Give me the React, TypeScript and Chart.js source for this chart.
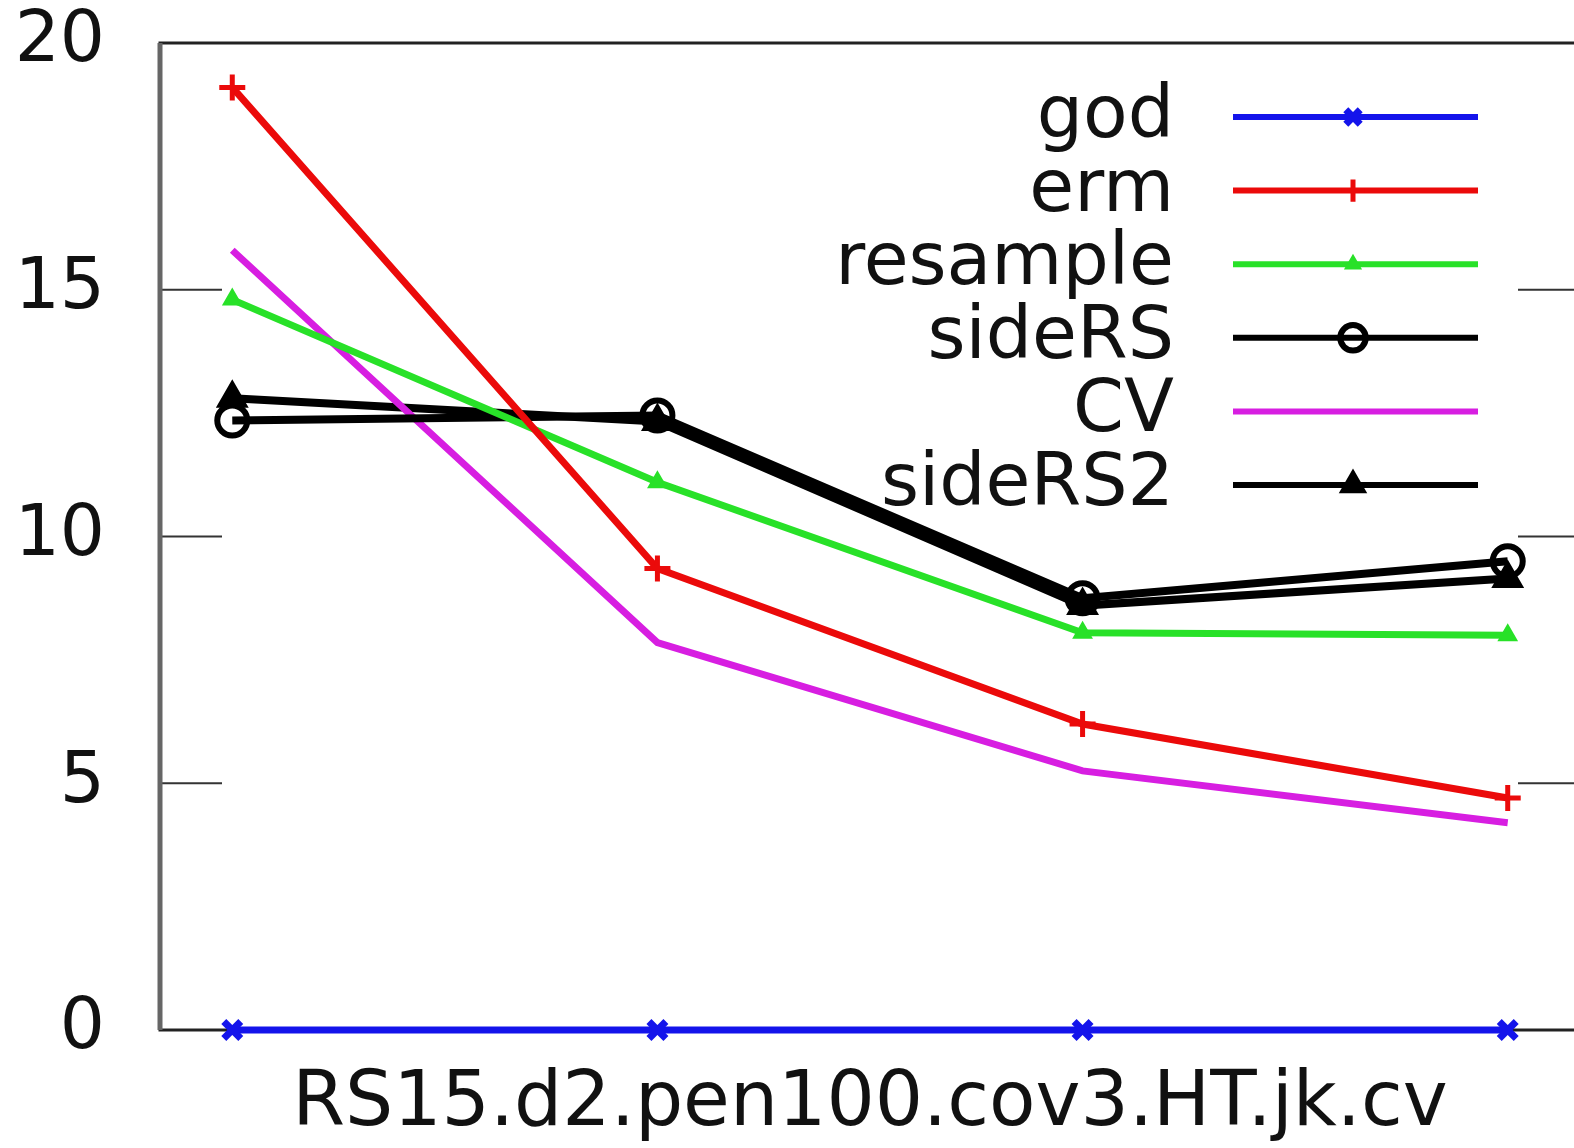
import React, { useEffect, useRef } from "react";
import { Chart, registerables } from "chart.js";
import { drawPoint } from "chart.js/helpers";

Chart.register(...registerables);

const xPositions = [1, 2, 3, 4];
const seriesNames = ["god", "erm", "resample", "sideRS", "CV", "sideRS2"];
const god = [0, 0, 0, 0];
const erm = [19.1, 9.35, 6.2, 4.7];
const resample = [14.8, 11.1, 8.05, 8.0];
const sideRS = [12.35, 12.45, 8.75, 9.5];
const cv = [15.8, 7.85, 5.25, 4.2];
const sideRS2 = [12.8, 12.33, 8.6, 9.15];
const yTickValues = [0, 5, 10, 15, 20];
const xAxisTitle = "RS15.d2.pen100.cov3.HT.jk.cv";

const FONT = "'DejaVu Sans', 'Liberation Sans', Arial, sans-serif";

const styles = [
  { color: "rgb(20,20,235)", pointStyle: "crossRot", radius: 12, pbw: 7, bg: "rgb(20,20,235)", lw: 7 },
  { color: "rgb(235,10,10)", pointStyle: "cross", radius: 13, pbw: 5, bg: "rgb(235,10,10)", lw: 7 },
  { color: "rgb(40,225,40)", pointStyle: "triangle", radius: 10, pbw: 2, bg: "rgb(40,225,40)", lw: 7 },
  { color: "rgb(0,0,0)", pointStyle: "circle", radius: 15, pbw: 6, bg: "rgba(0,0,0,0)", lw: 8 },
  { color: "rgb(215,30,225)", pointStyle: "circle", radius: 0, pbw: 0, bg: "rgb(215,30,225)", lw: 7 },
  { color: "rgb(0,0,0)", pointStyle: "triangle", radius: 17, pbw: 2, bg: "rgb(0,0,0)", lw: 8 },
];

const seriesValues = [god, erm, resample, sideRS, cv, sideRS2];

const framePlugin = {
  id: "frame",
  beforeDatasetsDraw(chart: any) {
    const { ctx, chartArea } = chart;
    const { left, right, top, bottom } = chartArea;
    const y = chart.scales.y;
    ctx.save();
    ctx.strokeStyle = "#333";
    ctx.lineWidth = 2;
    yTickValues.forEach((v) => {
      const py = y.getPixelForValue(v);
      ctx.beginPath();
      ctx.moveTo(left, py);
      ctx.lineTo(left + 62, py);
      ctx.moveTo(right - 62, py);
      ctx.lineTo(right, py);
      ctx.stroke();
    });
    ctx.strokeStyle = "#222";
    ctx.lineWidth = 3;
    ctx.strokeRect(left, top, right - left, bottom - top);
    ctx.strokeStyle = "#666";
    ctx.lineWidth = 5;
    ctx.beginPath();
    ctx.moveTo(left, top);
    ctx.lineTo(left, bottom);
    ctx.stroke();
    ctx.restore();
  },
};

const legendPlugin = {
  id: "customLegend",
  afterDraw(chart: any) {
    const { ctx } = chart;
    ctx.save();
    chart.data.datasets.forEach((ds: any, i: number) => {
      const yy = 117 + i * 73.6;
      ctx.font = `73px ${FONT}`;
      ctx.fillStyle = "#111";
      ctx.textAlign = "right";
      ctx.textBaseline = "middle";
      ctx.fillText(ds.label, 1174, yy + 1);
      ctx.strokeStyle = ds.borderColor;
      ctx.lineWidth = 6;
      ctx.beginPath();
      ctx.moveTo(1233, yy);
      ctx.lineTo(1478, yy);
      ctx.stroke();
      if (ds.pointRadius > 0) {
        ctx.fillStyle = ds.pointBackgroundColor;
        ctx.strokeStyle = ds.borderColor;
        ctx.lineWidth = ds.pointBorderWidth;
        drawPoint(ctx, { pointStyle: ds.pointStyle, rotation: 0, radius: ds.pointRadius * 0.85, borderWidth: ds.pointBorderWidth }, 1353, yy);
      }
    });
    ctx.restore();
  },
};

export default function App() {
  const ref = useRef<HTMLCanvasElement>(null);
  useEffect(() => {
    document.body.style.margin = "0";
    Chart.defaults.font.family = FONT;
    const datasets = seriesNames.map((name, i) => ({
      label: name,
      data: xPositions.map((x, j) => ({ x, y: seriesValues[i][j] })),
      borderColor: styles[i].color,
      backgroundColor: styles[i].color,
      borderWidth: styles[i].lw,
      pointStyle: styles[i].pointStyle,
      pointRadius: styles[i].radius,
      pointBorderWidth: styles[i].pbw,
      pointBackgroundColor: styles[i].bg,
      pointBorderColor: styles[i].color,
      tension: 0,
      clip: false,
    }));
    const chart = new Chart(ref.current!, {
      type: "line",
      data: { datasets },
      options: {
        responsive: false,
        animation: false,
        devicePixelRatio: 1,
        layout: { autoPadding: false, padding: { top: 43, right: 20, left: 0, bottom: 0 } },
        plugins: { legend: { display: false }, tooltip: { enabled: false } },
        scales: {
          x: {
            type: "linear",
            min: 0.83,
            max: 4.17,
            grid: { display: false },
            border: { display: false },
            ticks: { display: false },
            title: {
              display: true,
              text: xAxisTitle,
              color: "#111",
              font: { size: 76, lineHeight: 1, family: FONT },
              padding: { top: 0, bottom: 5 },
            },
            afterFit(scale: any) {
              scale.height = 118;
              scale.paddingLeft = 0;
              scale.paddingRight = 0;
            },
          },
          y: {
            min: 0,
            max: 20,
            grid: { display: false, drawTicks: false },
            border: { display: false },
            ticks: {
              stepSize: 5,
              padding: 55,
              color: "#111",
              font: { size: 71, lineHeight: 1, family: FONT },
            },
            afterFit(scale: any) {
              scale.width = 160;
              scale.paddingTop = 0;
              scale.paddingBottom = 0;
            },
          },
        },
      },
      plugins: [framePlugin, legendPlugin],
    });
    return () => chart.destroy();
  }, []);
  return (
    <div style={{ position: "absolute", left: 0, top: 0, width: 1574, height: 1148, overflow: "hidden", background: "#fff" }}>
      <canvas ref={ref} width={1600} height={1148} style={{ width: 1600, height: 1148, display: "block" }} />
    </div>
  );
}
